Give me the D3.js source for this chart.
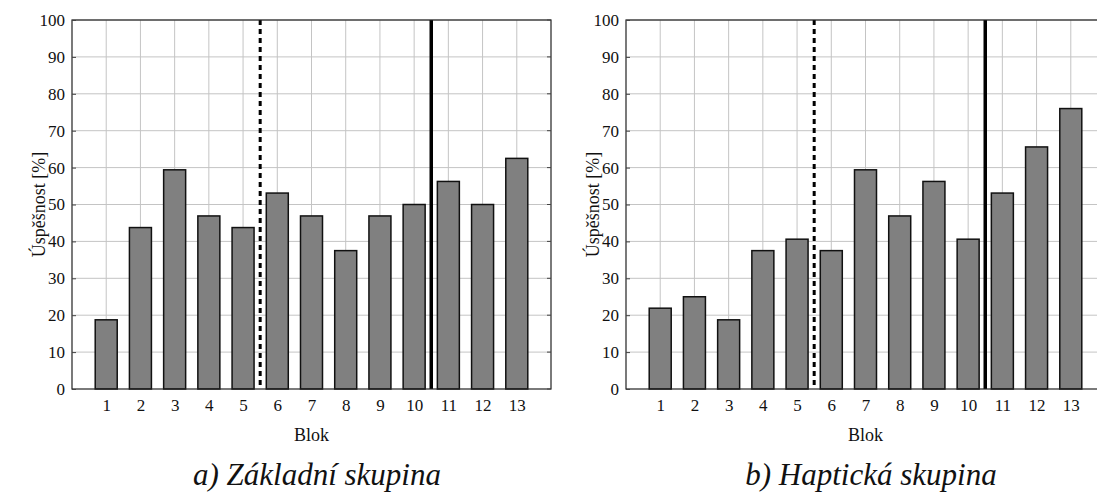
<!DOCTYPE html>
<html>
<head>
<meta charset="utf-8">
<script src="https://cdn.jsdelivr.net/npm/d3@7"></script>
<style>
body { margin: 0; background: #fff; }
svg { display: block; }
svg text { font-family: "Liberation Serif", "Tinos", "Times New Roman", "DejaVu Serif", serif !important; }
</style>
</head>
<body>
<svg id="chart" width="1097" height="493"></svg>
<script>
// data
var blocks = [1, 2, 3, 4, 5, 6, 7, 8, 9, 10, 11, 12, 13];
var basicGroup = [18.75, 43.75, 59.4, 46.9, 43.75, 53.1, 46.9, 37.5, 46.9, 50, 56.25, 50, 62.5];
var hapticGroup = [21.9, 25, 18.75, 37.5, 40.6, 37.5, 59.4, 46.9, 56.25, 40.6, 53.1, 65.6, 76];
var yTicks = [0, 10, 20, 30, 40, 50, 60, 70, 80, 90, 100];
var dashedAt = 5.5;
var solidAt = 10.5;
var captions = ["a) Základní skupina", "b) Haptická skupina"];

var svg = d3.select("#chart");

var plotTop = 20, plotBottom = 389;
var plotWidth = 479;

var yScale = d3.scaleLinear()
    .domain([0, 100])
    .range([plotBottom, plotTop]);

function drawPanel(left, values, caption) {
    var xScale = d3.scaleLinear()
        .domain([0, 14])
        .range([left, left + plotWidth]);

    var g = svg.append("g");

    // grid
    g.selectAll(".hgrid")
        .data(yTicks.slice(1))
        .enter()
        .append("line")
        .attr("x1", left)
        .attr("x2", left + plotWidth)
        .attr("y1", d => yScale(d))
        .attr("y2", d => yScale(d))
        .attr("stroke", "#c4c4c4")
        .attr("stroke-width", 1);

    g.selectAll(".vgrid")
        .data(blocks)
        .enter()
        .append("line")
        .attr("x1", d => xScale(d))
        .attr("x2", d => xScale(d))
        .attr("y1", plotTop)
        .attr("y2", plotBottom)
        .attr("stroke", "#c4c4c4")
        .attr("stroke-width", 1);

    // bars
    var barW = 22;
    g.selectAll(".bar")
        .data(values)
        .enter()
        .append("rect")
        .attr("x", (d, i) => xScale(blocks[i]) - barW / 2)
        .attr("y", d => yScale(d))
        .attr("width", barW)
        .attr("height", d => plotBottom - yScale(d))
        .attr("fill", "#808080")
        .attr("stroke", "#111")
        .attr("stroke-width", 1.5);

    // divider lines
    g.append("line")
        .attr("x1", xScale(dashedAt))
        .attr("x2", xScale(dashedAt))
        .attr("y1", plotTop)
        .attr("y2", plotBottom)
        .attr("stroke", "#000")
        .attr("stroke-width", 3)
        .attr("stroke-dasharray", "5,4");

    g.append("line")
        .attr("x1", xScale(solidAt))
        .attr("x2", xScale(solidAt))
        .attr("y1", plotTop)
        .attr("y2", plotBottom)
        .attr("stroke", "#000")
        .attr("stroke-width", 3.5);

    // frame
    g.append("rect")
        .attr("x", left)
        .attr("y", plotTop)
        .attr("width", plotWidth)
        .attr("height", plotBottom - plotTop)
        .attr("fill", "none")
        .attr("stroke", "#222")
        .attr("stroke-width", 1.2);

    // axes
    var leftAxis = d3.axisLeft(yScale)
        .tickValues(yTicks)
        .tickSize(-4)
        .tickPadding(7);
    var yAxisG = g.append("g")
        .attr("transform", `translate(${left}, 0)`)
        .call(leftAxis)
        .attr("font-size", 17);
    yAxisG.select(".domain").remove();
    yAxisG.selectAll("line").attr("stroke", "#444");
    yAxisG.selectAll("text").attr("fill", "#111");

    // right-side inner ticks
    g.selectAll(".rtick")
        .data(yTicks)
        .enter()
        .append("line")
        .attr("x1", left + plotWidth - 4)
        .attr("x2", left + plotWidth)
        .attr("y1", d => yScale(d))
        .attr("y2", d => yScale(d))
        .attr("stroke", "#444");

    var bottomAxis = d3.axisBottom(xScale)
        .tickValues(blocks)
        .tickSize(0)
        .tickPadding(10)
        .tickFormat(d3.format("d"));
    var xAxisG = g.append("g")
        .attr("transform", `translate(0, ${plotBottom})`)
        .call(bottomAxis)
        .attr("font-size", 17);
    xAxisG.select(".domain").remove();
    xAxisG.selectAll("text").attr("fill", "#111");

    // axis titles
    g.append("text")
        .attr("transform", `translate(${left - 27}, ${(plotTop + plotBottom) / 2}) rotate(-90)`)
        .attr("text-anchor", "middle")
        .attr("font-size", 18)
        .attr("fill", "#111")
        .text("Úspěšnost [%]");

    g.append("text")
        .attr("x", left + plotWidth / 2)
        .attr("y", 441)
        .attr("text-anchor", "middle")
        .attr("font-size", 18)
        .attr("fill", "#111")
        .text("Blok");

    g.append("text")
        .attr("x", left + 245)
        .attr("y", 485)
        .attr("text-anchor", "middle")
        .attr("font-size", 31)
        .attr("font-style", "italic")
        .attr("fill", "#111")
        .text(caption);
}

drawPanel(72, basicGroup, captions[0]);
drawPanel(626, hapticGroup, captions[1]);
</script>
</body>
</html>
